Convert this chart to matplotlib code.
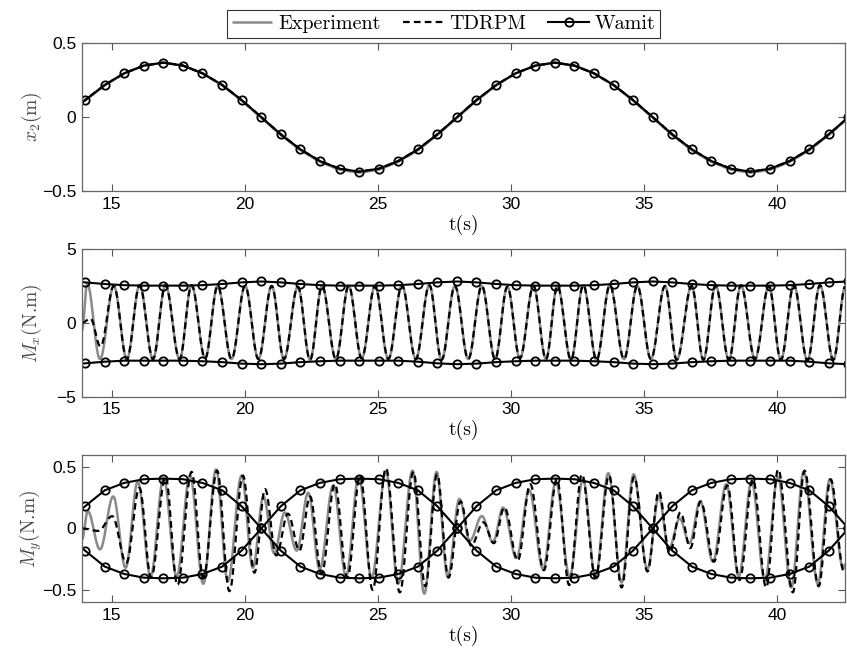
import numpy as np
import matplotlib
matplotlib.use("Agg")
import matplotlib.pyplot as plt

plt.rcParams['font.family'] = ['Liberation Sans', 'DejaVu Sans']
plt.rcParams['mathtext.fontset'] = 'cm'

# ---------------- data ----------------
x_lim = (13.885, 42.54)
x_ticks = [15, 20, 25, 30, 35, 40]

# Wamit marker times (s)
wamit_t = [14.00, 14.74, 15.47, 16.21, 16.94, 17.68, 18.41, 19.15, 19.88, 20.62,
           21.35, 22.09, 22.82, 23.56, 24.29, 25.03, 25.76, 26.50, 27.23, 27.97,
           28.70, 29.44, 30.17, 30.91, 31.64, 32.38, 33.11, 33.85, 34.58, 35.32,
           36.05, 36.79, 37.52, 38.26, 38.99, 39.73, 40.46, 41.20, 41.93, 42.67]
edge_t = 13.885

# x2 (m)
x2_wamit = [0.116, 0.218, 0.297, 0.349, 0.369, 0.349, 0.297, 0.218, 0.116, 0.0,
            -0.116, -0.218, -0.297, -0.349, -0.369, -0.349, -0.297, -0.218, -0.116, 0.0,
            0.116, 0.218, 0.297, 0.349, 0.369, 0.349, 0.297, 0.218, 0.116, 0.0,
            -0.116, -0.218, -0.297, -0.349, -0.369, -0.349, -0.297, -0.218, -0.116, 0.0]
x2_exp = [0.112, 0.216, 0.296, 0.349, 0.369, 0.349, 0.296, 0.216, 0.112, -0.004,
          -0.121, -0.224, -0.303, -0.356, -0.376, -0.356, -0.303, -0.224, -0.121, -0.004,
          0.112, 0.216, 0.296, 0.349, 0.369, 0.349, 0.296, 0.216, 0.112, -0.004,
          -0.121, -0.224, -0.303, -0.356, -0.376, -0.356, -0.303, -0.224, -0.121, -0.004]
x2_edge = 0.10

# Mx Wamit envelope (N.m)
mx_wamit_up = [2.74, 2.63, 2.55, 2.52, 2.52, 2.52, 2.55, 2.63, 2.74, 2.80,
               2.74, 2.63, 2.55, 2.52, 2.52, 2.52, 2.55, 2.63, 2.74, 2.80,
               2.74, 2.63, 2.55, 2.52, 2.52, 2.52, 2.55, 2.63, 2.74, 2.80,
               2.74, 2.63, 2.55, 2.52, 2.52, 2.52, 2.55, 2.63, 2.74, 2.80]
mx_wamit_lo = [-2.74, -2.63, -2.56, -2.56, -2.56, -2.56, -2.60, -2.66, -2.76, -2.80,
               -2.76, -2.66, -2.60, -2.56, -2.56, -2.56, -2.56, -2.63, -2.74, -2.80,
               -2.76, -2.66, -2.60, -2.56, -2.56, -2.56, -2.60, -2.66, -2.76, -2.80,
               -2.76, -2.66, -2.60, -2.56, -2.56, -2.56, -2.56, -2.63, -2.74, -2.80]
mx_edge_up, mx_edge_lo = 2.76, -2.76

# Mx Experiment: extrema (time, value)
mx_exp_t = [13.885, 14.08, 14.56, 15.08, 15.57, 16.05, 16.55, 17.02, 17.55, 18.00,
            18.51, 18.98, 19.50, 20.01, 20.51, 21.01, 21.47, 21.99, 22.45, 22.90,
            23.42, 23.90, 24.39, 24.89, 25.39, 25.90, 26.42, 26.93, 27.39, 27.89,
            28.39, 28.90, 29.40, 29.86, 30.33, 30.84, 31.31, 31.74, 32.25, 32.71,
            33.21, 33.71, 34.24, 34.74, 35.25, 35.78, 36.22, 36.78, 37.22, 37.68,
            38.18, 38.63, 39.16, 39.68, 40.13, 40.62, 41.13, 41.60, 42.10, 42.56]
mx_exp_v = [-0.5, 2.65, -2.45, 2.50, -2.45, 2.55, -2.45, 2.55, -2.45, 2.55,
            -2.40, 2.50, -2.45, 2.50, -2.45, 2.50, -2.45, 2.45, -2.50, 2.50,
            -2.45, 2.50, -2.40, 2.50, -2.45, 2.55, -2.45, 2.55, -2.50, 2.50,
            -2.45, 2.50, -2.45, 2.45, -2.40, 2.50, -2.45, 2.50, -2.50, 2.55,
            -2.50, 2.55, -2.45, 2.50, -2.45, 2.50, -2.50, 2.50, -2.50, 2.55,
            -2.50, 2.55, -2.45, 2.50, -2.50, 2.55, -2.55, 2.55, -2.50, 2.50]
# Mx TDRPM: extrema (time, value)
mx_tdr_t = [13.885, 14.20, 14.58] + mx_exp_t[3:]
mx_tdr_v = [0.0, 0.30, -1.60] + mx_exp_v[3:]

# My Wamit envelope (N.m)
my_wamit_up = [0.18, 0.31, 0.37, 0.40, 0.405, 0.40, 0.37, 0.31, 0.18, 0.0,
               -0.18, -0.31, -0.37, -0.40, -0.405, -0.40, -0.37, -0.31, -0.18, 0.0,
               0.18, 0.31, 0.37, 0.40, 0.405, 0.40, 0.37, 0.31, 0.18, 0.0,
               -0.18, -0.31, -0.37, -0.40, -0.405, -0.40, -0.37, -0.31, -0.18, 0.0]
my_wamit_lo = [-0.18, -0.31, -0.37, -0.40, -0.405, -0.40, -0.37, -0.31, -0.18, 0.0,
               0.18, 0.31, 0.37, 0.40, 0.405, 0.40, 0.37, 0.31, 0.18, 0.0,
               -0.18, -0.31, -0.37, -0.40, -0.405, -0.40, -0.37, -0.31, -0.18, 0.0,
               0.18, 0.31, 0.37, 0.40, 0.405, 0.40, 0.37, 0.31, 0.18, 0.0]
my_edge_up, my_edge_lo = 0.16, -0.16

# My Experiment: extrema (time, value)
my_exp_t = [13.885, 14.10, 14.56, 15.06, 15.52, 15.98, 16.46, 16.95, 17.44, 17.94,
            18.44, 18.92, 19.36, 19.88, 20.30, 20.70, 21.10, 21.50, 21.95, 22.38,
            22.81, 23.32, 23.80, 24.28, 24.76, 25.30, 25.76, 26.30, 26.74, 27.20,
            27.62, 28.06, 28.45, 28.90, 29.32, 29.70, 30.20, 30.68, 31.20, 31.68,
            32.20, 32.70, 33.17, 33.65, 34.15, 34.60, 35.12, 35.55, 35.92, 36.33,
            36.70, 37.10, 37.58, 38.08, 38.55, 39.03, 39.53, 40.02, 40.52, 40.99,
            41.52, 41.97, 42.47, 42.90]
my_exp_v = [-0.09, 0.14, -0.17, 0.26, -0.32, 0.38, -0.39, 0.41, -0.39, 0.43,
            -0.45, 0.48, -0.43, 0.43, -0.32, 0.26, -0.20, 0.13, -0.18, 0.29,
            -0.33, 0.35, -0.39, 0.42, -0.40, 0.46, -0.45, 0.47, -0.53, 0.46,
            -0.39, 0.24, -0.10, 0.10, -0.11, 0.17, -0.24, 0.31, -0.33, 0.38,
            -0.39, 0.40, -0.40, 0.45, -0.44, 0.44, -0.33, 0.26, -0.17, 0.08,
            -0.12, 0.22, -0.27, 0.36, -0.39, 0.38, -0.42, 0.42, -0.48, 0.46,
            -0.45, 0.40, -0.32, 0.20]
# My TDRPM: extrema (time, value)
my_tdr_t = [13.885, 14.50, 15.02, 15.55, 16.04, 16.48, 17.02, 17.47, 18.00, 18.44,
            18.96, 19.42, 19.93, 20.36, 20.76, 21.18, 21.62, 22.05, 22.45, 22.88,
            23.38, 23.85, 24.33, 24.80, 25.30, 25.82, 26.33, 26.78, 27.22, 27.65,
            28.10, 28.50, 28.96, 29.35, 29.75, 30.25, 30.72, 31.23, 31.72, 32.18,
            32.66, 33.17, 33.68, 34.15, 34.62, 35.12, 35.55, 35.95, 36.36, 36.73,
            37.12, 37.62, 38.12, 38.58, 39.08, 39.58, 40.03, 40.58, 41.02, 41.55,
            42.00, 42.50, 42.90]
my_tdr_v = [0.0, -0.02, 0.10, -0.28, 0.33, -0.40, 0.42, -0.46, 0.46, -0.40,
            0.47, -0.51, 0.43, -0.36, 0.32, -0.22, 0.12, -0.18, 0.26, -0.37,
            0.36, -0.40, 0.43, -0.50, 0.49, -0.52, 0.46, -0.47, 0.44, -0.40,
            0.22, -0.14, 0.05, -0.12, 0.17, -0.26, 0.36, -0.34, 0.40, -0.46,
            0.44, -0.40, 0.43, -0.48, 0.42, -0.35, 0.30, -0.20, 0.13, -0.16,
            0.22, -0.27, 0.35, -0.42, 0.40, -0.48, 0.48, -0.52, 0.47, -0.47,
            0.40, -0.35, 0.20]

labels = ['Experiment', 'TDRPM', 'Wamit']
ylabels = [r'$x_2$(m)', r'$M_x$(N.m)', r'$M_y$(N.m)']
xlabel = 't(s)'
ylims = [(-0.5, 0.5), (-5, 5), (-0.6, 0.6)]
yticks = [[-0.5, 0, 0.5], [-5, 0, 5], [-0.5, 0, 0.5]]
ytick_labels = [['\u22120.5', '0', '0.5'], ['\u22125', '0', '5'], ['\u22120.5', '0', '0.5']]

SERIF = ['cmr10', 'DejaVu Serif']


def wave(tk, vk, n=24):
    """smooth half-cosine shaping between successive read extrema"""
    tk = np.asarray(tk, float)
    vk = np.asarray(vk, float)
    s = np.linspace(0, 1, n, endpoint=False)
    t = (tk[:-1, None] + (tk[1:] - tk[:-1])[:, None] * s).ravel()
    v = (vk[:-1, None] + (vk[1:] - vk[:-1])[:, None] * (1 - np.cos(np.pi * s)) / 2).ravel()
    return np.append(t, tk[-1]), np.append(v, vk[-1])


GREY = '#8a8a8a'
exp_kw = dict(color=GREY, lw=1.8, solid_capstyle='butt')
tdr_kw = dict(color='black', lw=1.6, ls=(0, (3, 1.9)))
wam_kw = dict(color='black', lw=1.5, marker='o', ms=6, mfc='none', mec='black', mew=1.3)
mk_every = list(range(1, len(wamit_t) + 1))
tw = [edge_t] + wamit_t

fig = plt.figure(figsize=(8.47, 6.53), dpi=100)
L, W, H = 82 / 847, (845 - 82) / 847, 147.7 / 653
bottoms = [1 - 191 / 653, 1 - 396.7 / 653, 1 - 602.3 / 653]
axs = [fig.add_axes([L, b, W, H]) for b in bottoms]

# panel 1: x2
ax = axs[0]
h1, = ax.plot(tw, [x2_edge] + x2_exp, **exp_kw)
h2, = ax.plot(tw, [x2_edge] + x2_wamit, **tdr_kw)
h3, = ax.plot(tw, [x2_edge] + x2_wamit, markevery=mk_every, **wam_kw)

# panel 2: Mx
ax = axs[1]
ax.plot(*wave(mx_exp_t, mx_exp_v), **exp_kw)
ax.plot(*wave(mx_tdr_t, mx_tdr_v), **tdr_kw)
ax.plot(tw, [mx_edge_up] + mx_wamit_up, markevery=mk_every, **wam_kw)
ax.plot(tw, [mx_edge_lo] + mx_wamit_lo, markevery=mk_every, **wam_kw)

# panel 3: My
ax = axs[2]
ax.plot(*wave(my_exp_t, my_exp_v), **exp_kw)
ax.plot(*wave(my_tdr_t, my_tdr_v), **tdr_kw)
ax.plot(tw, [my_edge_up] + my_wamit_up, markevery=mk_every, **wam_kw)
ax.plot(tw, [my_edge_lo] + my_wamit_lo, markevery=mk_every, **wam_kw)

for i, ax in enumerate(axs):
    ax.set_xlim(*x_lim)
    ax.set_ylim(*ylims[i])
    ax.set_xticks(x_ticks)
    ax.set_yticks(yticks[i])
    ax.set_yticklabels(ytick_labels[i])
    ax.tick_params(direction='in', top=True, right=True, labelsize=12.5,
                   length=5, width=0.8, color='#555555', pad=4)
    for sp in ax.spines.values():
        sp.set_color('#666666')
        sp.set_linewidth(0.9)
    ax.set_xlabel(xlabel, fontsize=14, family=SERIF)
    ax.xaxis.set_label_coords(0.5, -0.16)
    ax.set_ylabel(ylabels[i], fontsize=14, color='#4a4a4a', family=SERIF)
    ax.yaxis.set_label_coords(-0.05, 0.5)

leg = fig.legend([h1, h2, h3], labels, loc='center', bbox_to_anchor=(0.524, 0.963),
                 ncol=3, frameon=True, fancybox=False, edgecolor='black',
                 prop=dict(family=SERIF, size=14.5),
                 handlelength=2.0, columnspacing=1.1, handletextpad=0.3,
                 borderpad=0.25, borderaxespad=0)
leg.get_frame().set_linewidth(0.8)

fig.savefig('out.png', dpi=100)
